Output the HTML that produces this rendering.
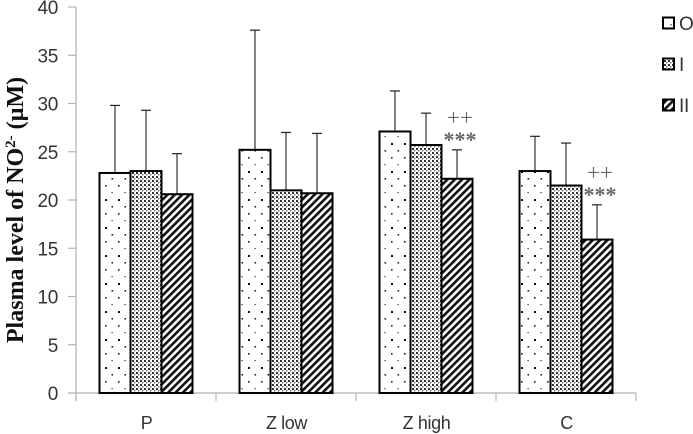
<!DOCTYPE html>
<html>
<head>
<meta charset="utf-8">
<style>
html,body{margin:0;padding:0;background:#fff;width:693px;height:434px;overflow:hidden}
svg{display:block}
.tick{font-family:"Liberation Sans",sans-serif;font-size:19px;fill:#333;letter-spacing:-.3px}
.cat{font-family:"Liberation Sans",sans-serif;font-size:18px;fill:#333;letter-spacing:-.4px}
.mark{font-family:"Liberation Serif",serif;fill:#666}
</style>
</head>
<body>
<svg id="chart" width="693" height="434" viewBox="0 0 693 434" xmlns="http://www.w3.org/2000/svg">
<defs>
<pattern id="pat-o" x="-2" y="0" width="13" height="28" patternUnits="userSpaceOnUse">
<rect width="13" height="28" fill="#fff"/>
<rect x="3" y="3" width="2" height="2" fill="#111"/>
<rect x="9.5" y="10" width="1.6" height="1.6" fill="#222"/>
<rect x="3" y="17" width="1.6" height="1.6" fill="#222"/>
<rect x="9.5" y="24" width="1.2" height="1.2" fill="#333"/>
</pattern>
<pattern id="pat-i" width="4" height="4" patternUnits="userSpaceOnUse">
<rect width="4" height="4" fill="#fff"/>
<rect x="0" y="0" width="2" height="2" fill="#333"/>
<rect x="2" y="2" width="1.4" height="1.4" fill="#666"/>
</pattern>
<pattern id="pat-ii" width="5.2" height="5.2" patternUnits="userSpaceOnUse" patternTransform="rotate(45)">
<rect width="5.2" height="5.2" fill="#fff"/>
<rect width="2.6" height="5.2" fill="#111"/>
</pattern>
</defs>
<g id="axes"></g>
<g id="bars"></g>
<text class="y-title" transform="translate(23,210) rotate(-90)" text-anchor="middle" font-family="'Liberation Serif',serif" font-weight="bold" font-size="24" fill="#111">Plasma level of NO<tspan font-size="15" dy="-8">2-</tspan><tspan dy="8"> (µM)</tspan></text>
<g id="legend"></g>
<g id="notes"></g>
</svg>
<script>
const categories = ["P", "Z low", "Z high", "C"];
const seriesNames = ["O", "I", "II"];
const seriesO = [22.8, 25.2, 27.1, 23.0];
const seriesI = [23.0, 21.0, 25.7, 21.5];
const seriesII = [20.6, 20.7, 22.2, 15.9];
const errorTopO = [29.8, 37.6, 31.3, 26.6];
const errorTopI = [29.3, 27.0, 29.0, 25.9];
const errorTopII = [24.8, 26.9, 25.2, 19.5];
const yTicks = [0, 5, 10, 15, 20, 25, 30, 35, 40];
const notes = [
  { category: "Z high", value: 26.2 },
  { category: "C", value: 20.5 }
];

const NS = "http://www.w3.org/2000/svg";
const plotLeft = 76, plotStep = 140, y0 = 393, yTop = 7, yMax = 40, barW = 31;
function yScale(v) { return y0 - (v / yMax) * (y0 - yTop); }
function catCenter(i) { return plotLeft + plotStep * (i + 0.5); }
function barX(i, s) { return catCenter(i) - 1.5 * barW + s * barW; }
function mk(parent, tag, attrs, text) {
  const el = document.createElementNS(NS, tag);
  for (const k in attrs) el.setAttribute(k, attrs[k]);
  if (text !== undefined) el.textContent = text;
  parent.appendChild(el);
  return el;
}
const axes = document.getElementById("axes");
const barsG = document.getElementById("bars");
const legend = document.getElementById("legend");
const notesG = document.getElementById("notes");
const axisColor = "#b5b5b5";

const yAxisLine = mk(axes, "line", { x1: plotLeft, x2: plotLeft, y1: yTop, y2: y0 + 8, stroke: axisColor, "stroke-width": 1.3 });


const xAxisLine = mk(axes, "line", { x1: plotLeft - 8, x2: plotLeft + plotStep * categories.length, y1: y0, y2: y0, stroke: axisColor, "stroke-width": 1.3 });



yTicks.forEach(function (t) {
  const py = yScale(t);
  const tl = mk(axes, "line", { x1: plotLeft - 8, x2: plotLeft, y1: py, y2: py, stroke: axisColor, "stroke-width": 1.2 });
  
  
  const lb = mk(axes, "text", { class: "tick", x: 58, y: py + 7, "text-anchor": "end" }, String(t));
  
  
});
for (let i = 0; i <= categories.length; i++) {
  const px = plotLeft + plotStep * i;
  const tk = mk(axes, "line", { x1: px, x2: px, y1: y0, y2: y0 + 8, stroke: axisColor, "stroke-width": 1.2 });
  
  
}
categories.forEach(function (c, i) {
  const lb = mk(axes, "text", { class: "cat", x: catCenter(i) + 0.5, y: 429, "text-anchor": "middle" }, c);
  
  
});

const seriesValues = [seriesO, seriesI, seriesII];
const seriesErrors = [errorTopO, errorTopI, errorTopII];
const fills = ["url(#pat-o)", "url(#pat-i)", "url(#pat-ii)"];
seriesValues.forEach(function (vals, s) {
  vals.forEach(function (v, i) {
    const x = barX(i, s), cx = x + barW / 2;
    const e = yScale(seriesErrors[s][i]);
    const stem = mk(barsG, "line", { x1: cx, x2: cx, y1: e, y2: yScale(v), stroke: "#333", "stroke-width": 1.2 });
    
    
    const cap = mk(barsG, "line", { x1: cx - 5, x2: cx + 5, y1: e, y2: e, stroke: "#222", "stroke-width": 1.2 });
    
    
  });
});
seriesValues.forEach(function (vals, s) {
  vals.forEach(function (v, i) {
    const py = yScale(v);
    const r = mk(barsG, "rect", { x: barX(i, s), y: py, width: barW, height: y0 - py, fill: fills[s], stroke: "#000", "stroke-width": 2 });
    
    
  });
});

const legendYs = [23, 64, 105];
seriesNames.forEach(function (n, s) {
  const sw = mk(legend, "rect", { x: 663, y: legendYs[s] - 5.5, width: 11, height: 11, fill: fills[s], stroke: "#000", "stroke-width": 2 });
  
  
  const lb = mk(legend, "text", { class: "tick", x: 679, y: legendYs[s] + 7 }, n);
  
  
});

notes.forEach(function (n) {
  const i = categories.indexOf(n.category);
  const cx = barX(i, 2) + barW / 2 + 3;
  const py = yScale(n.value);
  const plus = mk(notesG, "text", { class: "mark", x: cx, y: py - 15, "text-anchor": "middle", "font-size": 23 }, "++");
  
  
  const star = mk(notesG, "text", { class: "mark", x: cx, y: py + 7, "text-anchor": "middle", "font-size": 22, "font-weight": "bold" }, "***");
  
  
});
</script>
</body>
</html>
